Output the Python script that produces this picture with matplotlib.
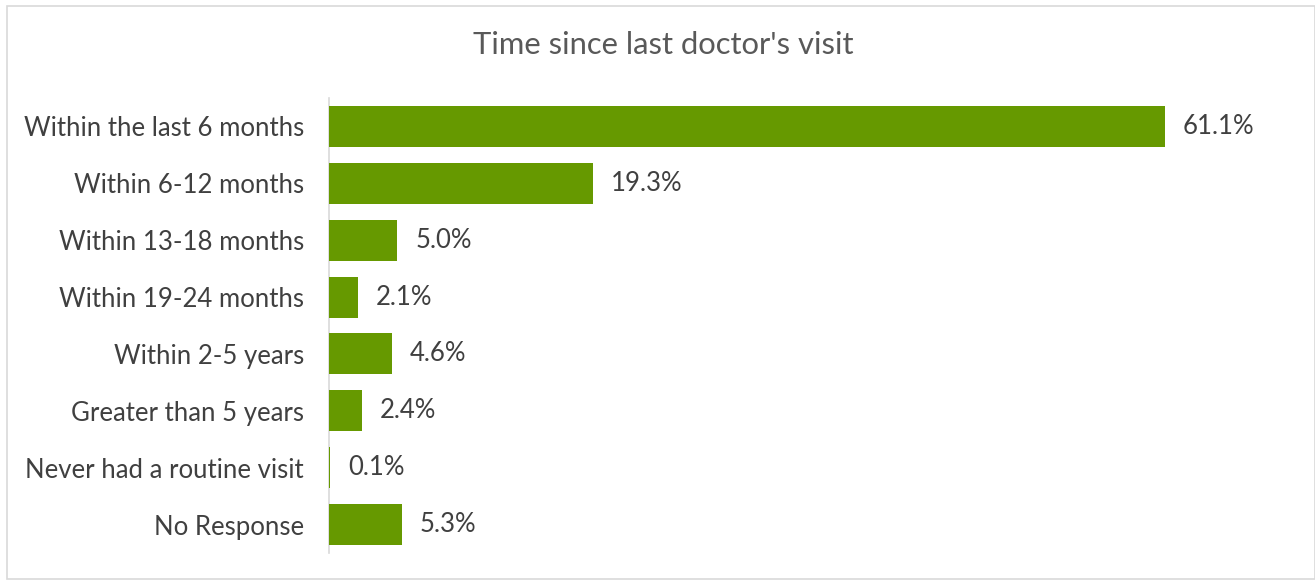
import matplotlib
matplotlib.use("Agg")
import matplotlib.pyplot as plt
from matplotlib.patches import Rectangle

categories = ["Within the last 6 months", "Within 6-12 months", "Within 13-18 months",
              "Within 19-24 months", "Within 2-5 years", "Greater than 5 years",
              "Never had a routine visit", "No Response"]
values = [61.1, 19.3, 5.0, 2.1, 4.6, 2.4, 0.1, 5.3]
labels = ["61.1%", "19.3%", "5.0%", "2.1%", "4.6%", "2.4%", "0.1%", "5.3%"]

plt.rcParams['font.family'] = ['Lato', 'DejaVu Sans']

fig = plt.figure(figsize=(13.15, 5.8), dpi=100)
ax = fig.add_axes([0.2502, 0.0466, 0.7285, 0.7844])

# outer border like the original chart frame
fig.patches.append(Rectangle((0.005, 0.002), 0.995, 0.987, transform=fig.transFigure,
                             fill=False, edgecolor='#d9d9d9', linewidth=1.2))

y = list(range(len(categories)))
ax.barh(y, values, height=0.72, color='#669900', zorder=3)
for yi, v, lab in zip(y, values, labels):
    ax.text(v + 1.3, yi, lab, va='center', ha='left', fontsize=18.5, color='#404040')

ax.set_yticks(y)
ax.set_yticklabels(categories, fontsize=18.5, color='#404040')
ax.set_ylim(len(categories) - 0.5, -0.5)
ax.set_xlim(0, 70)
ax.set_xticks([])
ax.tick_params(axis='y', length=0, pad=18)
for s in ['top', 'right', 'bottom']:
    ax.spines[s].set_visible(False)
ax.spines['left'].set_color('#d9d9d9')
ax.spines['left'].set_linewidth(1.2)
ax.spines['left'].set_zorder(1)

fig.text(0.504, 0.922, "Time since last doctor's visit", ha='center', va='center',
         fontsize=22.3, color='#595959')

fig.savefig("out.png", dpi=100)
